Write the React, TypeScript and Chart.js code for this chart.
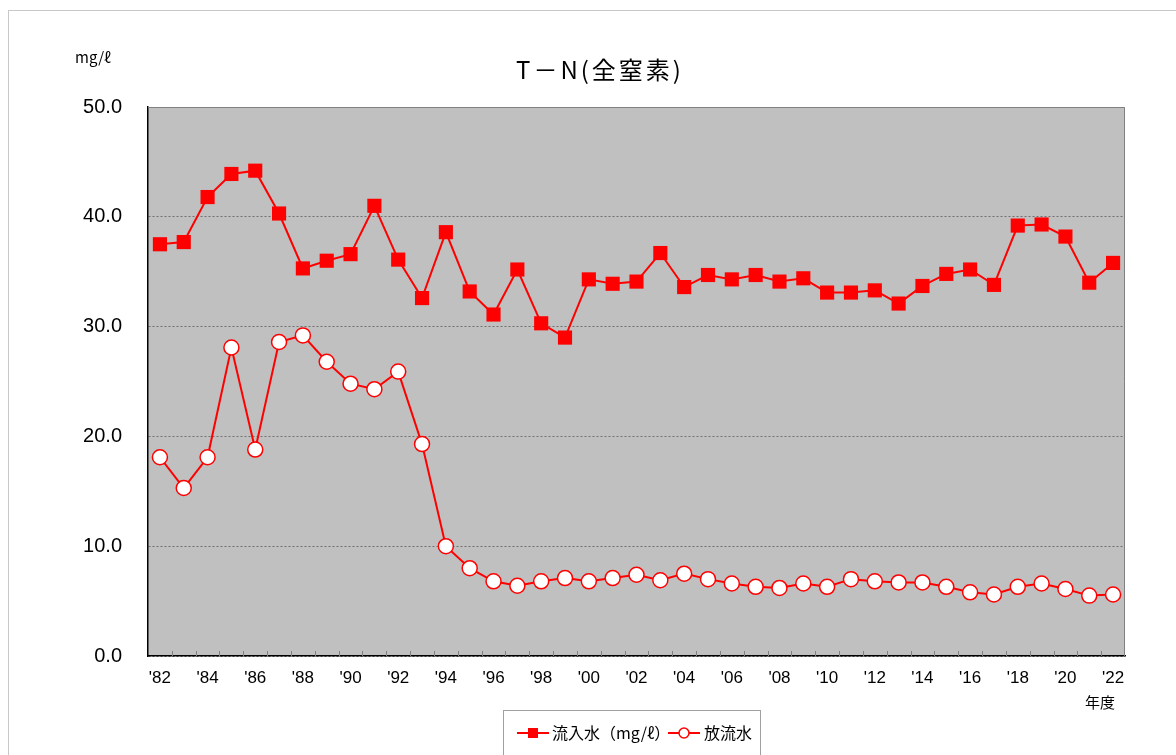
import React, { useEffect, useRef } from "react";
import { Chart, registerables } from "chart.js";

Chart.register(...registerables);

const years: string[] = [
  "'82", "'83", "'84", "'85", "'86", "'87", "'88", "'89", "'90", "'91",
  "'92", "'93", "'94", "'95", "'96", "'97", "'98", "'99", "'00", "'01",
  "'02", "'03", "'04", "'05", "'06", "'07", "'08", "'09", "'10", "'11",
  "'12", "'13", "'14", "'15", "'16", "'17", "'18", "'19", "'20", "'21", "'22",
];

const inflow: number[] = [
  37.5, 37.7, 41.8, 43.9, 44.2, 40.3, 35.3, 36.0, 36.6, 41.0,
  36.1, 32.6, 38.6, 33.2, 31.1, 35.2, 30.3, 29.0, 34.3, 33.9,
  34.1, 36.7, 33.6, 34.7, 34.3, 34.7, 34.1, 34.4, 33.1, 33.1,
  33.3, 32.1, 33.7, 34.8, 35.2, 33.8, 39.2, 39.3, 38.2, 34.0, 35.8,
];

const outflow: number[] = [
  18.1, 15.3, 18.1, 28.1, 18.8, 28.6, 29.2, 26.8, 24.8, 24.3,
  25.9, 19.3, 10.0, 8.0, 6.8, 6.4, 6.8, 7.1, 6.8, 7.1,
  7.4, 6.9, 7.5, 7.0, 6.6, 6.3, 6.2, 6.6, 6.3, 7.0,
  6.8, 6.7, 6.7, 6.3, 5.8, 5.6, 6.3, 6.6, 6.1, 5.5, 5.6,
];

const titleText = "T－N(全窒素)";
const unitText = "mg/ℓ";
const xUnitText = "年度";
const inflowLabel = "流入水（mg/ℓ）";
const outflowLabel = "放流水";

const JP = '"Noto Sans CJK JP", "Noto Sans", sans-serif';
const NUM = '"Liberation Sans", Arial, sans-serif';

const decorPlugin = {
  id: "decor",
  beforeDraw(chart: any) {
    const { ctx, chartArea } = chart;
    const { left, top, right, bottom } = chartArea;
    ctx.save();
    ctx.fillStyle = "#ffffff";
    ctx.fillRect(0, 0, chart.width, chart.height);
    // outer frame
    ctx.strokeStyle = "#c8c8c8";
    ctx.lineWidth = 1;
    ctx.strokeRect(8.5, 10.5, 3000, 3000);
    // plot background
    ctx.fillStyle = "#c0c0c0";
    ctx.fillRect(left, top, right - left, bottom - top);
    ctx.restore();
  },
  beforeDatasetsDraw(chart: any) {
    const { ctx, chartArea, scales } = chart;
    const { left, top, right, bottom } = chartArea;
    const x = scales.x;
    ctx.save();
    // top and right frame
    ctx.strokeStyle = "#808080";
    ctx.lineWidth = 1;
    ctx.beginPath();
    ctx.moveTo(left, top + 0.5);
    ctx.lineTo(right - 0.5, top + 0.5);
    ctx.lineTo(right - 0.5, bottom);
    ctx.stroke();
    // inward tick marks at category boundaries
    const half = (x.getPixelForValue(1) - x.getPixelForValue(0)) / 2;
    ctx.strokeStyle = "#808080";
    ctx.beginPath();
    for (let i = 1; i < years.length; i++) {
      const px = Math.round(x.getPixelForValue(i) - half) + 0.5;
      ctx.moveTo(px, bottom);
      ctx.lineTo(px, bottom - 5);
    }
    ctx.stroke();
    ctx.restore();
  },
  afterDraw(chart: any) {
    const { ctx } = chart;
    ctx.save();
    ctx.fillStyle = "#000";
    ctx.textBaseline = "middle";
    // title
    ctx.font = `24px ${JP}`;
    ctx.textAlign = "center";
    try { (ctx as any).letterSpacing = "3px"; } catch (e) {}
    ctx.fillText(titleText, 600, 70);
    try { (ctx as any).letterSpacing = "0px"; } catch (e) {}
    // unit
    ctx.font = `15px ${JP}`;
    ctx.textAlign = "left";
    ctx.fillText(unitText, 75, 57);
    // x unit
    ctx.font = `15px ${JP}`;
    ctx.fillText(xUnitText, 1085, 702);

    // legend box
    const bx = 503.5, by = 710.5, bw = 257, bh = 50;
    ctx.fillStyle = "#fff";
    ctx.fillRect(bx, by, bw, bh);
    ctx.strokeStyle = "#a0a0a0";
    ctx.lineWidth = 1;
    ctx.strokeRect(bx, by, bw, bh);
    const ly = 733;
    ctx.strokeStyle = "#ff0000";
    ctx.lineWidth = 2;
    ctx.beginPath();
    ctx.moveTo(517, ly);
    ctx.lineTo(549, ly);
    ctx.moveTo(668, ly);
    ctx.lineTo(700, ly);
    ctx.stroke();
    ctx.fillStyle = "#ff0000";
    ctx.fillRect(528, ly - 5, 10, 10);
    ctx.beginPath();
    ctx.arc(684, ly, 5, 0, Math.PI * 2);
    ctx.fillStyle = "#fff";
    ctx.fill();
    ctx.lineWidth = 1.5;
    ctx.stroke();
    ctx.fillStyle = "#000";
    ctx.font = `16px ${JP}`;
    ctx.textAlign = "left";
    ctx.fillText(inflowLabel, 552, ly);
    ctx.fillText(outflowLabel, 704, ly);
    ctx.restore();
  },
};

export default function App() {
  const ref = useRef<HTMLCanvasElement>(null);

  useEffect(() => {
    if (!ref.current) return;
    const chart = new Chart(ref.current, {
      type: "line",
      data: {
        labels: years,
        datasets: [
          {
            label: inflowLabel,
            data: inflow,
            borderColor: "#ff0000",
            backgroundColor: "#ff0000",
            borderWidth: 2,
            pointStyle: "rect",
            pointRadius: 10,
            pointBorderWidth: 0,
            pointBackgroundColor: "#ff0000",
            pointBorderColor: "#ff0000",
            tension: 0,
          },
          {
            label: outflowLabel,
            data: outflow,
            borderColor: "#ff0000",
            backgroundColor: "#ffffff",
            borderWidth: 2,
            pointStyle: "circle",
            pointRadius: 7.5,
            pointBorderWidth: 1.5,
            pointBackgroundColor: "#ffffff",
            pointBorderColor: "#ff0000",
            tension: 0,
          },
        ],
      },
      options: {
        responsive: false,
        animation: false,
        devicePixelRatio: 1,
        layout: { padding: { left: 0, right: 51, top: 107, bottom: 0 } },
        plugins: {
          legend: { display: false },
          title: { display: false },
          tooltip: { enabled: false },
        },
        scales: {
          x: {
            offset: true,
            grid: { display: false, drawTicks: false },
            border: { display: true, color: "#000", width: 1.5 },
            ticks: {
              autoSkip: false,
              maxRotation: 0,
              minRotation: 0,
              padding: 12,
              color: "#000",
              font: { family: NUM, size: 17 },
              callback: function (this: any, val: any, index: number) {
                return index % 2 === 0 ? this.getLabelForValue(val) : "";
              },
            },
            afterFit: (scale: any) => {
              scale.height = 99;
            },
          },
          y: {
            min: 0,
            max: 50,
            grid: { color: "#707070", lineWidth: 1, drawTicks: false },
            border: { display: true, color: "#000", width: 1.5, dash: [2, 2] },
            ticks: {
              stepSize: 10,
              padding: 26,
              color: "#000",
              font: { family: NUM, size: 20 },
              callback: (v: any) => Number(v).toFixed(1),
            },
            afterFit: (scale: any) => {
              scale.width = 148;
            },
          },
        },
      },
      plugins: [decorPlugin],
    });
    return () => chart.destroy();
  }, []);

  return (
    <div style={{ position: "absolute", left: 0, top: 0, width: 1176, height: 755 }}>
      <canvas ref={ref} width={1176} height={755} style={{ display: "block" }} />
    </div>
  );
}
